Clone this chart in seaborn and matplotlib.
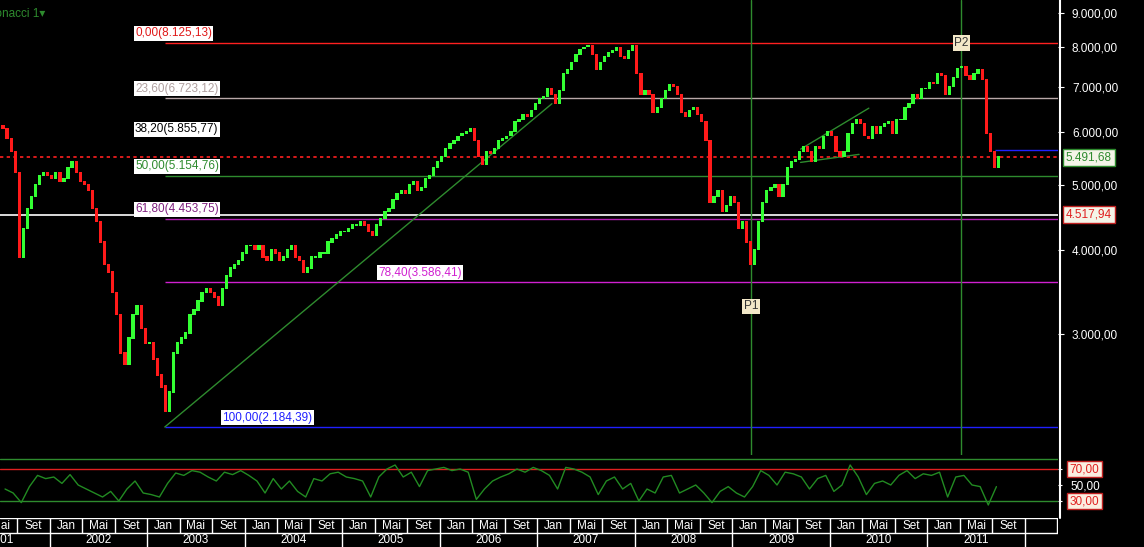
import matplotlib
matplotlib.use("Agg")
import matplotlib.pyplot as plt
import seaborn as sns
import numpy as np
import pandas as pd

# semi-monthly closes of the index, Jul 2001 .. Sep 2011
close_2001 = [6050, 5850, 5600, 5200, 3900, 4300, 4600, 4800, 5000, 5150, 5200, 5150]
close_2002 = [5100, 5200, 5050, 5100, 5300, 5400, 5200, 5050, 5000, 4900, 4600, 4400,
              4100, 3800, 3700, 3450, 3200, 2800, 2700, 2950, 3200, 3300, 3050, 2900]
close_2003 = [2900, 2750, 2600, 2500, 2300, 2450, 2800, 2900, 2950, 3000, 3200, 3250,
              3350, 3450, 3500, 3450, 3400, 3300, 3500, 3650, 3750, 3800, 3850, 3950]
close_2004 = [4050, 4050, 4000, 4050, 3900, 3850, 4000, 3950, 3850, 3900, 4000, 4050,
              3900, 3850, 3700, 3750, 3900, 3900, 3950, 3950, 4100, 4150, 4200, 4250]
close_2005 = [4250, 4300, 4350, 4350, 4400, 4350, 4250, 4200, 4350, 4450, 4550, 4600,
              4750, 4850, 4900, 4850, 5000, 5050, 4900, 4950, 5100, 5150, 5300, 5400]
close_2006 = [5500, 5650, 5750, 5800, 5900, 5950, 6000, 6050, 5800, 5500, 5350, 5600,
              5550, 5650, 5800, 5850, 5900, 6000, 6200, 6250, 6350, 6300, 6450, 6600]
close_2007 = [6700, 6750, 6950, 6800, 6600, 6900, 7300, 7400, 7600, 7800, 7950, 8000,
              8050, 7800, 7400, 7600, 7750, 7850, 7900, 8000, 7750, 7700, 7900, 8050]
close_2008 = [7300, 6800, 6900, 6800, 6400, 6500, 6700, 6900, 7050, 7000, 6800, 6400,
              6300, 6450, 6500, 6350, 6200, 5800, 4700, 4800, 4900, 4550, 4650, 4800]
close_2009 = [4700, 4300, 4400, 4100, 3800, 4000, 4400, 4700, 4900, 4950, 5000, 4800,
              5000, 5300, 5400, 5450, 5600, 5700, 5600, 5400, 5700, 5650, 5900, 6000]
close_2010 = [5900, 5600, 5500, 5600, 5950, 6150, 6250, 6150, 5900, 5850, 6100, 5950,
              6100, 6150, 6200, 5950, 6250, 6250, 6500, 6600, 6800, 6700, 6950, 6950]
close_2011 = [7100, 7050, 7300, 7250, 6800, 7000, 7200, 7450, 7500, 7250, 7150, 7300,
              7400, 7150, 5950, 5600, 5300, 5491.68]

# monthly RSI readings, Jul 2001 .. Sep 2011
rsi_2001 = [45, 40, 28, 48, 62, 58]
rsi_2002 = [60, 52, 63, 50, 45, 40, 35, 42, 30, 45, 55, 40]
rsi_2003 = [38, 35, 52, 65, 62, 68, 66, 60, 55, 66, 63, 68]
rsi_2004 = [62, 55, 40, 58, 45, 55, 42, 35, 58, 55, 64, 66]
rsi_2005 = [60, 58, 55, 35, 60, 70, 75, 60, 66, 48, 68, 70]
rsi_2006 = [72, 68, 70, 66, 32, 45, 55, 60, 64, 70, 66, 72]
rsi_2007 = [68, 62, 45, 72, 70, 66, 60, 38, 55, 60, 45, 52]
rsi_2008 = [30, 45, 40, 60, 62, 40, 45, 50, 40, 28, 42, 48]
rsi_2009 = [40, 35, 48, 68, 62, 50, 66, 64, 60, 45, 58, 62]
rsi_2010 = [42, 50, 75, 60, 38, 52, 55, 50, 62, 68, 58, 64]
rsi_2011 = [62, 66, 35, 60, 62, 50, 48, 25, 48]

# fibonacci retracement levels
fib_pct = ["0,00", "23,60", "38,20", "50,00", "61,80", "78,40", "100,00"]
fib_val = [8125.13, 6723.12, 5855.77, 5154.76, 4453.75, 3586.41, 2184.39]
fib_txt = ["8.125,13", "6.723,12", "5.855,77", "5.154,76", "4.453,75", "3.586,41", "2.184,39"]
fib_col = ["#ff2020", "#b8a8a8", "#000000", "#2e8b2e", "#b020b0", "#d020d0", "#2020ff"]

last_price = 5491.68
level_white = 4517.94
price_ticks = [3000, 4000, 5000, 6000, 7000, 8000, 9000]
month_names = ["Jan", "Mai", "Set"]
years = list(range(2001, 2012))

closes = (close_2001 + close_2002 + close_2003 + close_2004 + close_2005 + close_2006
          + close_2007 + close_2008 + close_2009 + close_2010 + close_2011)
rsi = rsi_2001 + rsi_2002 + rsi_2003 + rsi_2004 + rsi_2005 + rsi_2006 + rsi_2007 \
    + rsi_2008 + rsi_2009 + rsi_2010 + rsi_2011

t_price = 2001.5 + np.arange(len(closes)) / 24 + 1 / 48
opens = [closes[0] * 1.01] + closes[:-1]
t_rsi = 2001.5 + np.arange(len(rsi)) / 12 + 1 / 24
df_rsi = pd.DataFrame({"t": t_rsi, "rsi": rsi})

sns.set_style("dark", {"axes.facecolor": "black", "figure.facecolor": "black"})
plt.rcParams["font.family"] = ["Liberation Sans", "DejaVu Sans"]

X0, X1 = 2001.49, 2012.34
fig = plt.figure(figsize=(11.44, 5.47), dpi=100)
fig.patch.set_facecolor("black")
ax = fig.add_axes([0, 1 - 455 / 547, 1058 / 1144, 455 / 547])
ax_r = fig.add_axes([0, 1 - 518 / 547, 1058 / 1144, 60 / 547])
ax_x = fig.add_axes([0, 0, 1058 / 1144, 29 / 547])
for a in (ax, ax_r, ax_x):
    a.set_facecolor("black")
    a.set_xlim(X0, X1)
    for s in a.spines.values():
        s.set_visible(False)

# ---- price panel
ax.set_yscale("log")
ax.set_ylim(1985, 9410)
cols = ["#33ff33" if c >= o else "#ff1a1a" for o, c in zip(opens, closes)]
bottoms = np.minimum(opens, closes)
heights = np.abs(np.array(closes) - np.array(opens)) + 20
ax.bar(t_price, heights, bottom=bottoms, width=1 / 30, color=cols, linewidth=0, zorder=3)

x_fib = 2003.18
for p, v, txt, c in zip(fib_pct, fib_val, fib_txt, fib_col):
    ax.hlines(v, x_fib, X1, color=c, lw=1, zorder=2)
lab_x = [X0 + 135 / 97.5] * 5 + [X0 + 378 / 97.5, X0 + 222 / 97.5]
lab_col = ["#e01818", "#b0a0a0", "#000000", "#2e8b2e", "#802080", "#d020d0", "#2020ff"]
for x, p, v, txt, c in zip(lab_x, fib_pct, fib_val, fib_txt, lab_col):
    ax.text(x, v * 1.012, f"{p}({txt})", color=c, fontsize=8.5, va="bottom", ha="left",
            bbox=dict(boxstyle="square,pad=0.12", fc="white", ec="none"), zorder=5)

ax.axhline(level_white, color="white", lw=1.2, zorder=2)
ax.axhline(last_price, color="#ff2020", lw=1.2, ls=(0, (2, 2)), zorder=2)
ax.hlines(5640, 2011.69, X1, color="#2020ff", lw=1, zorder=2)
ax.plot([2003.18, 2007.15], [2184.39, 6600], color="#2e8b2e", lw=1, zorder=2)
ax.plot([2009.7, 2010.4], [5650, 6500], color="#2e8b2e", lw=1, zorder=2)
ax.plot([2009.7, 2010.3], [5400, 5550], color="#2e8b2e", lw=1, zorder=2)
ax.axvline(2009.19, color="#2e8b2e", lw=1, zorder=2)
ax.axvline(2011.35, color="#2e8b2e", lw=1, zorder=2)
ax.text(2009.19, 3300, "P1", ha="center", va="center", fontsize=8.5, color="#333",
        bbox=dict(boxstyle="square,pad=0.15", fc="#f3e8c8", ec="none"), zorder=6)
ax.text(2011.35, 8125, "P2", ha="center", va="center", fontsize=8.5, color="#333",
        bbox=dict(boxstyle="square,pad=0.15", fc="#f3e8c8", ec="none"), zorder=6)

ax.yaxis.tick_right()
ax.set_yticks(price_ticks)
ax.set_yticklabels([f"{v // 1000}.{v % 1000:03d},00" for v in price_ticks],
                   color="#e0e0e0", fontsize=8.5)
ax.yaxis.set_minor_locator(matplotlib.ticker.NullLocator())
ax.tick_params(axis="y", which="major", colors="white", length=4, pad=6)
ax.set_xticks([])
ax.grid(False)
ax.text(X1 + 0.08, last_price, "5.491,68", color="#2e8b2e", fontsize=8.5, va="center",
        bbox=dict(boxstyle="square,pad=0.25", fc="#f4f4e8", ec="#2e8b2e"), clip_on=False)
ax.text(X1 + 0.08, level_white, "4.517,94", color="#e02020", fontsize=8.5, va="center",
        bbox=dict(boxstyle="square,pad=0.25", fc="#f4f4e8", ec="#c02020"), clip_on=False)
fig.lines.append(plt.Line2D([1060 / 1144] * 2, [1 - 518 / 547, 1], color="white", lw=1.5,
                            transform=fig.transFigure))
fig.text(-0.018, 0.985, "Fibonacci 1\u25be", color="#2e8b2e", fontsize=8.5, va="top")

# ---- RSI panel
ax_r.set_ylim(8.75, 83.75)
ax_r.axhline(70, color="#e02020", lw=1)
ax_r.axhline(30, color="#2e8b2e", lw=1)
ax_r.axhline(83, color="#2e8b2e", lw=1)
sns.lineplot(data=df_rsi, x="t", y="rsi", ax=ax_r, color="#228b22", lw=1)
ax_r.set_xlim(X0, X1)
ax_r.set_xlabel("")
ax_r.set_ylabel("")
ax_r.set_xticks([])
ax_r.yaxis.tick_right()
ax_r.set_yticks([30, 50, 70])
ax_r.set_yticklabels(["", "50,00", ""], color="#e0e0e0", fontsize=8.5)
ax_r.tick_params(axis="y", colors="white", length=3, pad=6)
for v in (70, 30):
    ax_r.text(X1 + 0.12, v, f"{v},00", color="#e02020", fontsize=8.5, va="center",
              bbox=dict(boxstyle="square,pad=0.2", fc="#fbeee0", ec="#c02020"), clip_on=False)

# ---- time axis cells
ax_x.set_ylim(0, 2)
ax_x.set_xticks([])
ax_x.set_yticks([])
ax_x.axhline(1.0, color="white", lw=1)
ax_x.axhline(1.97, color="white", lw=1)
for y in years + [2012]:
    for m, name in enumerate(month_names):
        t = y + m / 3
        if t > X1:
            continue
        ax_x.vlines(t, 1, 2, color="white", lw=1)
        if y <= 2011:
            ax_x.text(t + 1 / 6, 1.47, name, color="white", fontsize=8.5, ha="center", va="center")
    ax_x.vlines(y, 0, 1, color="white", lw=1)
for y in years:
    ax_x.text(y + 0.5, 0.45, str(y), color="white", fontsize=8.5, ha="center", va="center")

fig.savefig("out.png", dpi=100, facecolor="black")
